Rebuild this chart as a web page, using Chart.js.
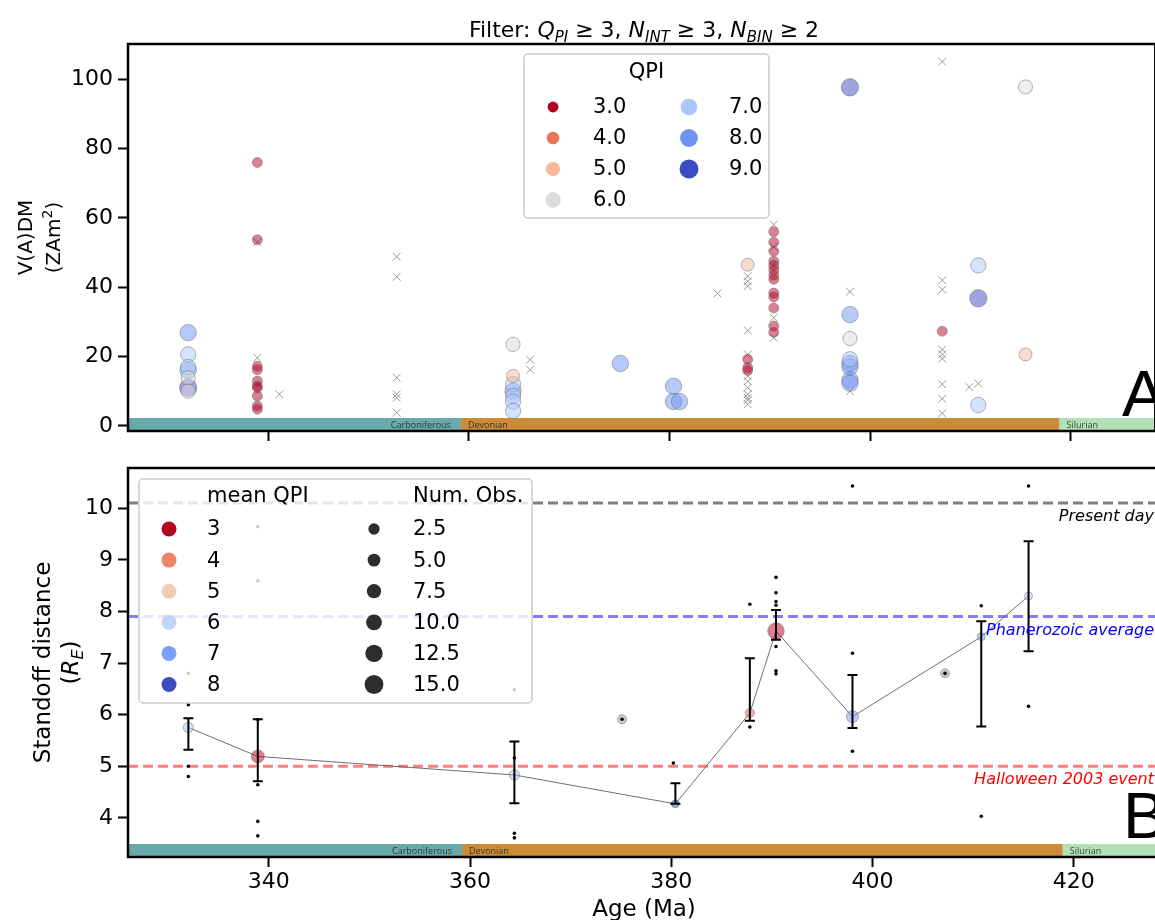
<!DOCTYPE html>
<html>
<head>
<meta charset="utf-8">
<script src="https://cdn.jsdelivr.net/npm/chart.js@4.4.1/dist/chart.umd.min.js"></script>
<style>
  html, body { margin: 0; padding: 0; background: #fff; overflow: hidden; }
  #wrap { position: relative; width: 1155px; height: 920px; overflow: hidden; }
  canvas { position: absolute; left: 0; }
  #top { top: 0; }
  #bot { top: 460px; }
</style>
</head>
<body>
<div id="wrap">
  <canvas id="top" width="1165" height="460"></canvas>
  <canvas id="bot" width="1165" height="460"></canvas>
</div>
<script>
// ---------- datos ----------
const xTicks = [340, 360, 380, 400, 420]
const yTicksA = [0, 20, 40, 60, 80, 100]
const yTicksB = [4, 5, 6, 7, 8, 9, 10]

const periodNames = ["Carboniferous", "Devonian", "Silurian"]
const periodStart = [298.9, 359.2, 418.9]
const periodEnd = [359.2, 418.9, 443.8]

// panel A: puntos aceptados (edad, VADM, QPI)
const ageA = [
  332.0, 332.0, 332.0, 332.0, 332.0, 332.0, 332.0,
  338.9, 338.9, 338.9, 338.9, 338.9, 338.9, 338.9, 338.9, 338.9, 338.9,
  364.4, 364.4, 364.4, 364.4, 364.4, 364.4, 364.4,
  375.1, 380.4, 380.4, 381.0,
  387.8, 387.8, 387.8, 387.8,
  390.4, 390.4, 390.4, 390.4, 390.4, 390.4, 390.4, 390.4, 390.4, 390.4, 390.4, 390.4, 390.4,
  398.0, 398.0, 398.0, 398.0, 398.0, 398.0, 398.0, 398.0,
  407.2, 410.8, 410.8, 410.8, 415.5, 415.5
]
const vadmA = [
  26.9, 20.6, 17.0, 16.0, 13.9, 11.0, 10.0,
  76.0, 53.7, 17.2, 16.2, 12.9, 11.5, 11.0, 8.6, 5.7, 4.8,
  23.5, 14.4, 12.0, 10.0, 8.6, 7.0, 4.3,
  18.0, 11.4, 7.0, 7.0,
  46.5, 19.2, 16.8, 16.0,
  56.0, 53.0, 50.4, 47.5, 46.3, 45.0, 43.5, 42.3, 38.3, 37.2, 34.0, 28.8, 27.0,
  97.7, 32.1, 25.2, 19.2, 18.0, 17.0, 13.2, 12.3,
  27.3, 46.3, 36.8, 6.0, 97.8, 20.6
]
const qpiA = [
  8, 7, 7, 8, 6, 9, 6,
  3, 3, 3, 3, 3, 3, 3, 3, 3, 3,
  6, 5, 7, 8, 7, 7, 7,
  8, 8, 8, 8,
  5, 3, 3, 3,
  3, 3, 3, 3, 3, 3, 3, 3, 3, 3, 3, 3, 3,
  9, 8, 6, 7, 8, 8, 8, 8,
  3, 7, 9, 7, 6, 5
]

// panel A: puntos descartados (cruces)
const ageRejected = [
  338.9, 338.9, 341.1,
  352.8, 352.8, 352.8, 352.8, 352.8, 352.8,
  366.1, 366.1, 384.8,
  387.8, 387.8, 387.8, 387.8, 387.8, 387.8, 387.8, 387.8, 387.8, 387.8, 387.8, 387.8,
  390.4, 390.4, 390.4, 390.4,
  398.0, 398.0,
  407.2, 407.2, 407.2, 407.2, 407.2, 407.2, 407.2, 407.2, 407.2,
  409.9, 410.8
]
const vadmRejected = [
  53.0, 19.6, 9.1,
  48.8, 43.0, 13.9, 9.1, 8.1, 3.8,
  19.1, 16.2, 38.2,
  43.2, 41.7, 40.3, 27.5, 20.6, 14.4, 12.9, 11.0, 9.1, 8.1, 7.4, 6.2,
  58.1, 51.6, 31.2, 25.4,
  38.7, 10.0,
  105.1, 42.0, 39.3, 22.0, 20.6, 19.4, 12.0, 7.8, 3.6,
  11.2, 12.2
]

const qpiLevels = [3, 4, 5, 6, 7, 8, 9]

// panel B: medias por edad
const meanAge = [332.0, 338.9, 364.4, 380.4, 387.8, 390.4, 398.0, 410.8, 415.5]
const meanStandoff = [5.75, 5.19, 4.83, 4.27, 6.03, 7.62, 5.96, 7.51, 8.30]
const meanQpi = [6.3, 3.0, 6.4, 8.0, 3.7, 3.0, 7.1, 7.0, 6.0]
const meanNumObs = [5, 8, 5, 3, 4, 13, 7, 3, 3]
const errLow = [5.32, 4.71, 4.28, 4.27, 5.88, 7.45, 5.74, 5.77, 7.23]
const errHigh = [5.93, 5.91, 5.48, 4.67, 7.09, 8.03, 6.77, 7.81, 9.36]

// panel B: edades con una sola observación
const singleAge = [375.1, 407.2]
const singleStandoff = [5.91, 6.80]

// panel B: observaciones individuales
const obsAge = [
  332.0, 332.0, 332.0, 332.0,
  338.9, 338.9, 338.9, 338.9, 338.9, 338.9,
  364.4, 364.4, 364.4, 364.4,
  375.1, 380.2,
  387.8, 387.8,
  390.4, 390.4, 390.4, 390.4, 390.4, 390.4, 390.4,
  398.0, 398.0, 398.0,
  407.2, 410.8, 410.8, 415.5, 415.5
]
const obsStandoff = [
  6.80, 6.19, 5.00, 4.80,
  9.64, 8.59, 5.90, 4.64, 3.93, 3.65,
  6.48, 5.16, 3.70, 3.61,
  5.91, 5.06,
  8.14, 5.76,
  8.66, 8.36, 8.19, 8.12, 7.32, 6.85, 6.79,
  10.43, 7.19, 5.29,
  6.80, 8.11, 4.03, 10.43, 6.16
]

const referenceLevels = [10.1, 7.9, 5.0]
const referenceLabels = ["Present day", "Phanerozoic average", "Halloween 2003 event"]

const meanQpiLegend = [3, 4, 5, 6, 7, 8]
const numObsLegend = [2.5, 5.0, 7.5, 10.0, 12.5, 15.0]

// ---------- estilos ----------
const FONT = "'DejaVu Sans', sans-serif"
Chart.defaults.font.family = FONT
Chart.defaults.color = '#000'

const xMin = 326.0, xMax = 428.45
const periodColors = ["#68AAAB", "#CB8C37", "#B3E1B6"]
const qpiColors = ["#b40426", "#e7745b", "#f7b89c", "#dddcdc", "#aac7fd", "#7093f3", "#3b4cc0"]
const meanQpiColors = ["#b40426", "#ee8468", "#f2cbb7", "#c0d4f5", "#7b9ff9", "#3b4cc0"]
const refLineColors = ['rgba(0,0,0,0.5)', 'rgba(0,0,255,0.5)', 'rgba(255,0,0,0.5)']
const refTextColors = ['#000', '#0000ff', '#ff0000']

function rgbOf(hex) {
  const n = parseInt(hex.slice(1), 16)
  return [(n >> 16) & 255, (n >> 8) & 255, n & 255]
}
function rgba(rgb, a) { return `rgba(${rgb[0]}, ${rgb[1]}, ${rgb[2]}, ${a})` }
function mixColor(stops, lo, hi, v) {
  const t = Math.max(0, Math.min(1, (v - lo) / (hi - lo))) * (stops.length - 1)
  const i = Math.min(Math.floor(t), stops.length - 2)
  const f = t - i
  const a = rgbOf(stops[i]), b = rgbOf(stops[i + 1])
  return a.map((c, k) => Math.round(c + (b[k] - c) * f))
}

function drawRich(ctx, parts, x, y, rotate) {
  ctx.save()
  ctx.translate(x, y)
  if (rotate) ctx.rotate(-Math.PI / 2)
  ctx.textBaseline = 'alphabetic'
  ctx.textAlign = 'left'
  let w = 0
  parts.forEach(p => { ctx.font = p.font; p.w = ctx.measureText(p.t).width; w += p.w })
  let cx = -w / 2
  parts.forEach(p => {
    ctx.font = p.font
    ctx.fillStyle = p.color || '#000'
    ctx.fillText(p.t, cx, p.dy || 0)
    cx += p.w
  })
  ctx.restore()
}

function xAxis(showLabels, height) {
  return {
    type: 'linear', min: xMin, max: xMax,
    afterBuildTicks: s => { s.ticks = xTicks.map(v => ({ value: v })) },
    afterFit: s => { s.height = height; s.paddingLeft = 0; s.paddingRight = 0 },
    ticks: { color: showLabels ? '#000' : 'rgba(0,0,0,0)', font: { size: 22 }, padding: 2, maxRotation: 0 },
    grid: { drawOnChartArea: false, drawTicks: true, tickLength: 10, tickWidth: 2, tickColor: '#000', color: '#000' },
    border: { display: false }
  }
}
function yAxis(min, max, ticks) {
  return {
    type: 'linear', min, max,
    afterBuildTicks: s => { s.ticks = ticks.map(v => ({ value: v })) },
    afterFit: s => { s.width = 128; s.paddingTop = 0; s.paddingBottom = 0 },
    ticks: { color: '#000', font: { size: 22 }, padding: 5 },
    grid: { drawOnChartArea: false, drawTicks: true, tickLength: 10, tickWidth: 2, tickColor: '#000', color: '#000' },
    border: { display: false }
  }
}

// bandas de periodos geológicos + marco
const periodBands = {
  id: 'periodBands',
  beforeDatasetsDraw(chart) {
    const { ctx, chartArea: a, scales: { x } } = chart
    const h = 13
    ctx.save()
    periodNames.forEach((name, i) => {
      const x1 = Math.max(x.getPixelForValue(periodStart[i]), a.left)
      const x2 = Math.min(x.getPixelForValue(periodEnd[i]), a.right)
      ctx.fillStyle = periodColors[i]
      ctx.fillRect(x1, a.bottom - h, x2 - x1, h)
      ctx.font = "9px 'Open Sans', sans-serif"
      ctx.fillStyle = 'rgba(25,35,35,0.85)'
      ctx.textBaseline = 'middle'
      if (i === 0) { ctx.textAlign = 'right'; ctx.fillText(name, x2 - 10, a.bottom - h / 2 + 1) }
      else { ctx.textAlign = 'left'; ctx.fillText(name, x1 + 7, a.bottom - h / 2 + 1) }
    })
    ctx.restore()
  },
  afterDraw(chart) {
    const { ctx, chartArea: a } = chart
    ctx.save()
    ctx.strokeStyle = '#000'
    ctx.lineWidth = 2.5
    ctx.strokeRect(a.left, a.top, a.right - a.left, a.bottom - a.top)
    ctx.restore()
  }
}

// ---------- panel A ----------
const scatterA = qpiLevels.map((q, i) => ({
  data: ageA.map((a, k) => ({ x: a, y: vadmA[k], q: qpiA[k] })).filter(p => p.q === q),
  pointRadius: 2.9 * Math.sqrt(q),
  backgroundColor: rgba(rgbOf(qpiColors[i]), 0.5),
  borderColor: 'rgba(110,110,110,0.5)',
  borderWidth: 1,
  order: 1
}))

const rejectedA = {
  data: ageRejected.map((a, k) => ({ x: a, y: vadmRejected[k] })),
  pointStyle: 'crossRot',
  pointRadius: 5.5,
  borderColor: 'rgba(120,120,120,0.75)',
  borderWidth: 1,
  order: 5
}

const panelADecor = {
  id: 'panelADecor',
  afterDatasetsDraw(chart) {
    const ctx = chart.ctx
    const bx = 524, by = 54, bw = 245, bh = 164
    ctx.save()
    ctx.fillStyle = 'rgba(255,255,255,0.8)'
    ctx.strokeStyle = '#cccccc'
    ctx.lineWidth = 1.5
    ctx.beginPath(); ctx.roundRect(bx, by, bw, bh, 4); ctx.fill(); ctx.stroke()
    ctx.fillStyle = '#000'
    ctx.font = `21px ${FONT}`
    ctx.textAlign = 'center'; ctx.textBaseline = 'middle'
    ctx.fillText('QPI', bx + bw / 2, by + 19)
    ctx.textAlign = 'left'
    qpiLevels.forEach((q, i) => {
      const col = Math.floor(i / 4), row = i % 4
      const mx = bx + 29 + col * 136, my = by + 53 + row * 31
      ctx.fillStyle = qpiColors[i]
      ctx.beginPath(); ctx.arc(mx, my, 3.15 * Math.sqrt(q), 0, 2 * Math.PI); ctx.fill()
      ctx.fillStyle = '#000'
      ctx.fillText(q.toFixed(1), mx + 40, my + 1)
    })
    ctx.restore()
  },
  afterDraw(chart) {
    const ctx = chart.ctx
    const f = `22px ${FONT}`, fi = `italic 22px ${FONT}`, fs = `italic 15px ${FONT}`
    drawRich(ctx, [
      { t: 'Filter: ', font: f }, { t: 'Q', font: fi }, { t: 'PI', font: fs, dy: 5 },
      { t: ' ≥ 3, ', font: f }, { t: 'N', font: fi }, { t: 'INT', font: fs, dy: 5 },
      { t: ' ≥ 3, ', font: f }, { t: 'N', font: fi }, { t: 'BIN', font: fs, dy: 5 },
      { t: ' ≥ 2', font: f }
    ], 644, 37, false)
    const a = chart.chartArea
    const cy = (a.top + a.bottom) / 2
    drawRich(ctx, [{ t: 'V(A)DM', font: `20px ${FONT}` }], 32, cy, true)
    drawRich(ctx, [{ t: '(ZAm', font: `20px ${FONT}` }, { t: '2', font: `14px ${FONT}`, dy: -8 }, { t: ')', font: `20px ${FONT}` }], 60, cy, true)
    ctx.save()
    ctx.font = "65px 'Liberation Sans', sans-serif"
    ctx.fillStyle = '#000'
    ctx.textAlign = 'left'; ctx.textBaseline = 'alphabetic'
    ctx.fillText('A', 1122, 416)
    ctx.restore()
  }
}

new Chart(document.getElementById('top'), {
  type: 'scatter',
  data: { datasets: [...scatterA, rejectedA] },
  options: {
    responsive: false,
    animation: false,
    events: [],
    layout: { padding: { top: 44, right: 5, left: 0, bottom: 0 } },
    plugins: { legend: { display: false }, tooltip: { enabled: false } },
    scales: { x: xAxis(false, 29), y: yAxis(-1.5, 110.2, yTicksA) }
  },
  plugins: [periodBands, panelADecor]
})

// ---------- panel B ----------
const meanColors = meanQpi.map(q => rgba(mixColor(meanQpiColors, 3, 8, q), 0.5))

const refDatasets = referenceLevels.map((v, i) => ({
  data: [{ x: xMin, y: v }, { x: xMax, y: v }],
  showLine: true,
  borderColor: refLineColors[i],
  borderWidth: 3,
  borderDash: [10, 5],
  pointRadius: 0,
  order: 6
}))

const errorBars = {
  id: 'errorBars',
  afterDatasetsDraw(chart) {
    const { ctx, scales: { x, y } } = chart
    ctx.save()
    ctx.strokeStyle = '#000'
    ctx.lineWidth = 2
    meanAge.forEach((a, i) => {
      const px = x.getPixelForValue(a)
      const y1 = y.getPixelForValue(errLow[i]), y2 = y.getPixelForValue(errHigh[i])
      ctx.beginPath()
      ctx.moveTo(px, y1); ctx.lineTo(px, y2)
      ctx.moveTo(px - 5, y1); ctx.lineTo(px + 5, y1)
      ctx.moveTo(px - 5, y2); ctx.lineTo(px + 5, y2)
      ctx.stroke()
    })
    ctx.restore()
  }
}

const panelBDecor = {
  id: 'panelBDecor',
  afterDatasetsDraw(chart) {
    const { ctx, chartArea: a, scales: { y } } = chart
    ctx.save()
    // textos de las líneas de referencia
    ctx.font = `italic 16px ${FONT}`
    ctx.textAlign = 'right'; ctx.textBaseline = 'alphabetic'
    referenceLevels.forEach((v, i) => {
      ctx.fillStyle = refTextColors[i]
      ctx.fillText(referenceLabels[i], 1154, y.getPixelForValue(v) + 18)
    })
    // leyenda
    const bx = 139, by = 19, bw = 393, bh = 224
    ctx.fillStyle = 'rgba(255,255,255,0.8)'
    ctx.strokeStyle = '#cccccc'
    ctx.lineWidth = 1.5
    ctx.beginPath(); ctx.roundRect(bx, by, bw, bh, 4); ctx.fill(); ctx.stroke()
    ctx.font = `21px ${FONT}`
    ctx.textAlign = 'left'; ctx.textBaseline = 'middle'
    ctx.fillStyle = '#000'
    ctx.fillText('mean QPI', bx + 68, by + 18)
    ctx.fillText('Num. Obs.', bx + 274, by + 18)
    meanQpiLegend.forEach((q, i) => {
      const my = by + 50 + i * 31.1
      ctx.fillStyle = meanQpiColors[i]
      ctx.beginPath(); ctx.arc(bx + 30, my, 7.5, 0, 2 * Math.PI); ctx.fill()
      ctx.fillStyle = '#000'
      ctx.fillText(String(q), bx + 68, my + 1)
    })
    numObsLegend.forEach((n, i) => {
      const my = by + 50 + i * 31.1
      ctx.fillStyle = '#2d2d2d'
      ctx.beginPath(); ctx.arc(bx + 235, my, 4.9 + 0.3 * n, 0, 2 * Math.PI); ctx.fill()
      ctx.fillStyle = '#000'
      ctx.fillText(n.toFixed(1), bx + 274, my + 1)
    })
    ctx.restore()
  },
  afterDraw(chart) {
    const ctx = chart.ctx
    const a = chart.chartArea
    const cy = (a.top + a.bottom) / 2
    drawRich(ctx, [{ t: 'Standoff distance', font: `23px ${FONT}` }], 50, cy, true)
    drawRich(ctx, [
      { t: '(', font: `23px ${FONT}` }, { t: 'R', font: `italic 23px ${FONT}` },
      { t: 'E', font: `italic 16px ${FONT}`, dy: 5 }, { t: ')', font: `23px ${FONT}` }
    ], 78, cy, true)
    drawRich(ctx, [{ t: 'Age (Ma)', font: `23px ${FONT}` }], 644, 456, false)
    ctx.save()
    ctx.font = "65px 'Liberation Sans', sans-serif"
    ctx.fillStyle = '#000'
    ctx.textAlign = 'left'; ctx.textBaseline = 'alphabetic'
    ctx.fillText('B', 1123, 378)
    ctx.restore()
  }
}

new Chart(document.getElementById('bot'), {
  type: 'scatter',
  data: {
    datasets: [
      {
        data: obsAge.map((a, k) => ({ x: a, y: obsStandoff[k] })),
        pointRadius: 1.8, backgroundColor: '#000', borderWidth: 0, order: 0
      },
      {
        data: meanAge.map((a, k) => ({ x: a, y: meanStandoff[k] })),
        showLine: true,
        borderColor: 'rgba(95,95,95,0.9)',
        borderWidth: 1,
        pointRadius: meanNumObs.map(n => 2.3 * Math.sqrt(n)),
        pointBackgroundColor: meanColors,
        pointBorderColor: 'rgba(110,110,110,0.5)',
        pointBorderWidth: 1,
        order: 1
      },
      {
        data: singleAge.map((a, k) => ({ x: a, y: singleStandoff[k] })),
        pointRadius: 4.5,
        backgroundColor: 'rgba(150,150,150,0.5)',
        borderColor: 'rgba(110,110,110,0.5)',
        borderWidth: 1,
        order: 2
      },
      ...refDatasets
    ]
  },
  options: {
    responsive: false,
    animation: false,
    events: [],
    layout: { padding: { top: 8, right: 5, left: 0, bottom: 0 } },
    plugins: { legend: { display: false }, tooltip: { enabled: false } },
    scales: { x: xAxis(true, 63), y: yAxis(3.24, 10.78, yTicksB) }
  },
  plugins: [periodBands, errorBars, panelBDecor]
})
</script>
</body>
</html>
